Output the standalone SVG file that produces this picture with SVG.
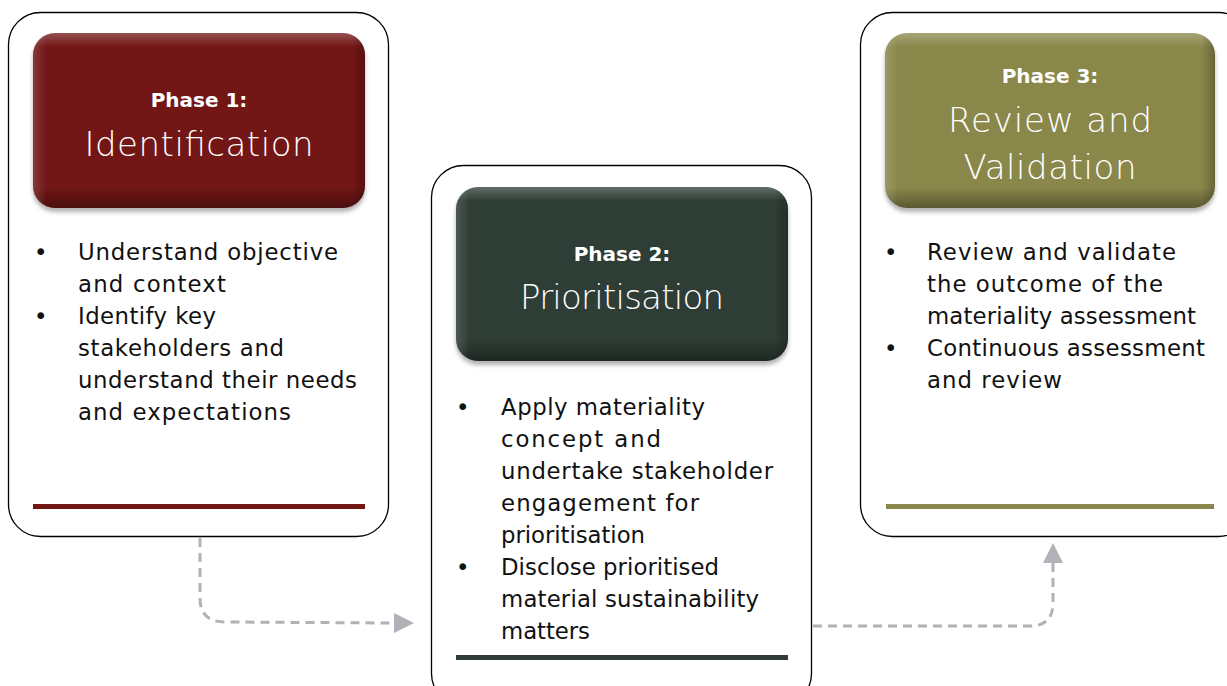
<svg xmlns="http://www.w3.org/2000/svg" width="1227" height="686" viewBox="0 0 1227 686">
<defs>
<filter id="sh" x="-10%" y="-10%" width="120%" height="130%">
<feDropShadow dx="0" dy="4" stdDeviation="2" flood-color="#000" flood-opacity="0.3"/>
</filter>
<linearGradient id="bevel" x1="0" y1="0" x2="0" y2="1">
<stop offset="0" stop-color="#fff" stop-opacity="0.25"/>
<stop offset="0.08" stop-color="#fff" stop-opacity="0"/>
<stop offset="0.88" stop-color="#000" stop-opacity="0"/>
<stop offset="1" stop-color="#000" stop-opacity="0.35"/>
</linearGradient>
<linearGradient id="bevelx" x1="0" y1="0" x2="1" y2="0">
<stop offset="0" stop-color="#fff" stop-opacity="0.15"/>
<stop offset="0.04" stop-color="#fff" stop-opacity="0"/>
<stop offset="0.96" stop-color="#000" stop-opacity="0"/>
<stop offset="1" stop-color="#000" stop-opacity="0.25"/>
</linearGradient>
<marker id="arr" viewBox="0 0 10 10" refX="0" refY="5" markerWidth="20" markerHeight="20" markerUnits="userSpaceOnUse" orient="auto">
<path d="M0,0 L10,5 L0,10 Z" fill="#b3b0b8"/>
</marker>
</defs>
<style>
.outer{fill:#fff;stroke:#000;stroke-width:1.3}
.t{font-family:"DejaVu Sans","Liberation Sans",sans-serif;font-size:22.8px;fill:#111}
.ph{font-family:"DejaVu Sans","Liberation Sans",sans-serif;font-size:20px;font-weight:bold;fill:#fff;text-anchor:middle}
.ti{font-family:"DejaVu Sans","Liberation Sans",sans-serif;font-size:34px;font-weight:200;fill:#fff;text-anchor:middle}
.conn{fill:none;stroke:#b3b0b8;stroke-width:3;stroke-dasharray:9 6}
</style>

<g id="phase1">
<rect class="outer" x="8.5" y="12.5" width="380" height="524" rx="32"/>
<rect x="33" y="33" width="332" height="175" rx="22" fill="#731715" filter="url(#sh)"/>
<rect x="33" y="33" width="332" height="175" rx="22" fill="url(#bevel)"/>
<rect x="33" y="33" width="332" height="175" rx="22" fill="url(#bevelx)"/>
<text class="ph" x="199" y="107">Phase 1:</text>
<text class="ti" x="199" y="156" textLength="229" lengthAdjust="spacing">Identification</text>
<text class="t" x="34" y="260">•</text><text class="t" x="78" y="260" textLength="260" lengthAdjust="spacing">Understand objective</text>
<text class="t" x="78" y="292" textLength="148" lengthAdjust="spacing">and context</text>
<text class="t" x="34" y="324">•</text><text class="t" x="78" y="324" textLength="138" lengthAdjust="spacing">Identify key</text>
<text class="t" x="78" y="356" textLength="206" lengthAdjust="spacing">stakeholders and</text>
<text class="t" x="78" y="388" textLength="279" lengthAdjust="spacing">understand their needs</text>
<text class="t" x="78" y="420" textLength="213" lengthAdjust="spacing">and expectations</text>
<rect x="33" y="504" width="332" height="5" fill="#731715"/>
</g>

<g id="phase2">
<rect class="outer" x="431.5" y="165.5" width="380" height="540" rx="32"/>
<rect x="456" y="187" width="332" height="174" rx="22" fill="#2f3d36" filter="url(#sh)"/>
<rect x="456" y="187" width="332" height="174" rx="22" fill="url(#bevel)"/>
<rect x="456" y="187" width="332" height="174" rx="22" fill="url(#bevelx)"/>
<text class="ph" x="622" y="261">Phase 2:</text>
<text class="ti" x="622" y="309" textLength="204" lengthAdjust="spacing">Prioritisation</text>
<text class="t" x="456" y="415">•</text><text class="t" x="501" y="415" textLength="204" lengthAdjust="spacing">Apply materiality</text>
<text class="t" x="501" y="447" textLength="160" lengthAdjust="spacing">concept and</text>
<text class="t" x="501" y="479" textLength="272" lengthAdjust="spacing">undertake stakeholder</text>
<text class="t" x="501" y="511" textLength="198" lengthAdjust="spacing">engagement for</text>
<text class="t" x="501" y="543" textLength="144" lengthAdjust="spacing">prioritisation</text>
<text class="t" x="456" y="575">•</text><text class="t" x="501" y="575" textLength="218" lengthAdjust="spacing">Disclose prioritised</text>
<text class="t" x="501" y="607" textLength="258" lengthAdjust="spacing">material sustainability</text>
<text class="t" x="501" y="639" textLength="89" lengthAdjust="spacing">matters</text>
<rect x="456" y="655" width="332" height="5" fill="#2f3d36"/>
</g>

<g id="phase3">
<rect class="outer" x="860.5" y="12.5" width="390" height="524" rx="32"/>
<rect x="885" y="33" width="330" height="175" rx="22" fill="#8a874c" filter="url(#sh)"/>
<rect x="885" y="33" width="330" height="175" rx="22" fill="url(#bevel)"/>
<rect x="885" y="33" width="330" height="175" rx="22" fill="url(#bevelx)"/>
<text class="ph" x="1050" y="83">Phase 3:</text>
<text class="ti" x="1050" y="132" textLength="204" lengthAdjust="spacing">Review and</text>
<text class="ti" x="1050" y="179" textLength="173" lengthAdjust="spacing">Validation</text>
<text class="t" x="884" y="260">•</text><text class="t" x="927" y="260" textLength="249" lengthAdjust="spacing">Review and validate</text>
<text class="t" x="927" y="292" textLength="236" lengthAdjust="spacing">the outcome of the</text>
<text class="t" x="927" y="324" textLength="269" lengthAdjust="spacing">materiality assessment</text>
<text class="t" x="884" y="356">•</text><text class="t" x="927" y="356" textLength="278" lengthAdjust="spacing">Continuous assessment</text>
<text class="t" x="927" y="388" textLength="135" lengthAdjust="spacing">and review</text>
<rect x="886" y="504" width="328" height="5" fill="#8a874c"/>
</g>

<g id="connectors">
<path class="conn" d="M200,538 V598 Q200,622 225,622 L394,623" marker-end="url(#arr)"/>
<path class="conn" d="M813,626 H1030 Q1053,626 1053,603 V563" marker-end="url(#arr)"/>
</g>
</svg>
